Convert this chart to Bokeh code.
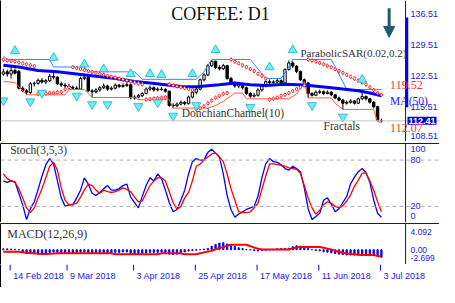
from bokeh.plotting import figure
from bokeh.models import (ColumnDataSource, Range1d, FixedTicker, LinearAxis, Label,
                          Arrow, NormalHead, Span, BoxAnnotation)
from bokeh.layouts import column
from bokeh.embed import file_html
from bokeh.resources import INLINE
from bokeh.core.properties import value

# ---------------- data ----------------
opens = [123.0, 123.5, 123.0, 123.8, 123.6, 119.8, 119.2, 118.8, 120.8, 120.9,
         121.6, 121.2, 121.5, 122.5, 122.3, 120.8, 120.5, 120.3, 120.0, 119.8,
         119.6, 122.0, 122.3, 119.2, 119.0, 119.4, 119.9, 120.3, 119.6, 119.8,
         120.5, 120.2, 120.4, 120.6, 117.6, 117.8, 118.1, 118.6, 119.6, 119.9,
         119.4, 119.6, 119.5, 119.1, 115.9, 115.8, 116.2, 116.6, 116.3, 117.8,
         118.9, 119.6, 121.7, 122.8, 124.9, 125.9, 124.5, 124.2, 124.9, 122.0,
         120.9, 120.3, 120.6, 119.9, 118.6, 118.0, 118.2, 119.4, 120.3, 121.3,
         121.1, 121.2, 121.5, 121.0, 124.0, 125.5, 124.8, 123.6, 121.7, 121.0,
         118.6, 118.2, 118.9, 119.0, 118.6, 118.9, 118.3, 117.6, 117.1, 116.4,
         116.6, 116.9, 116.4, 117.4, 117.9, 117.4, 116.6, 115.6, 112.5]
highs = [124.2, 124.0, 124.6, 124.3, 123.9, 120.2, 119.6, 121.2, 121.3, 122.0,
         122.1, 121.9, 123.0, 123.2, 122.5, 121.3, 121.0, 120.8, 120.4, 120.3,
         122.4, 122.9, 122.5, 119.6, 119.8, 120.3, 120.9, 120.6, 120.2, 120.9,
         120.8, 120.9, 121.2, 120.8, 118.2, 118.5, 118.9, 120.0, 120.4, 120.2,
         120.0, 120.1, 119.8, 119.3, 116.4, 116.6, 117.0, 116.9, 118.1, 119.2,
         119.9, 122.0, 123.2, 125.3, 126.1, 126.0, 125.0, 125.3, 125.1, 122.4,
         121.3, 121.0, 120.9, 120.2, 118.9, 118.7, 119.8, 120.7, 121.6, 121.8,
         121.6, 121.9, 121.8, 124.3, 126.1, 125.9, 125.0, 123.8, 122.0, 121.2,
         118.9, 119.3, 119.5, 119.3, 119.3, 119.1, 118.5, 117.9, 117.4, 117.0,
         117.3, 117.1, 117.7, 119.5, 118.2, 117.6, 116.9, 115.8, 112.9]
lows = [122.6, 122.4, 122.0, 122.9, 119.5, 118.9, 118.3, 118.5, 120.2, 120.6,
        120.8, 120.7, 121.2, 121.8, 120.5, 120.1, 119.9, 119.6, 119.5, 119.5,
        119.4, 121.6, 118.9, 117.7, 118.6, 119.0, 119.6, 119.2, 119.3, 119.5,
        119.8, 119.9, 120.1, 117.3, 117.2, 117.5, 117.8, 118.4, 119.2, 119.0,
        119.1, 119.2, 118.8, 115.6, 115.3, 115.5, 115.9, 115.9, 116.1, 117.5,
        118.4, 119.3, 121.3, 122.5, 124.6, 124.1, 123.8, 123.9, 121.7, 120.6,
        119.9, 119.8, 119.5, 118.3, 117.6, 117.7, 117.9, 119.0, 120.0, 120.7,
        120.8, 120.9, 120.6, 120.8, 123.8, 124.4, 123.2, 121.4, 120.7, 117.6,
        117.9, 118.0, 118.5, 118.3, 118.4, 118.0, 117.3, 116.8, 115.0, 116.1,
        116.3, 116.1, 116.2, 117.1, 117.0, 116.3, 115.2, 112.2, 112.07]
closes = [123.5, 123.0, 123.8, 123.2, 119.8, 119.2, 118.9, 120.8, 120.9, 121.6,
          121.2, 121.5, 122.5, 122.3, 120.8, 120.5, 120.3, 120.0, 119.8, 119.6,
          122.0, 122.3, 119.2, 119.0, 119.4, 119.9, 120.3, 119.6, 119.8, 120.5,
          120.2, 120.4, 120.6, 117.6, 117.8, 118.1, 118.6, 119.6, 119.9, 119.4,
          119.6, 119.5, 119.1, 115.9, 115.8, 116.2, 116.6, 116.3, 117.8, 118.9,
          119.6, 121.7, 122.8, 124.9, 125.9, 124.5, 124.2, 124.9, 122.0, 120.9,
          120.3, 120.6, 119.9, 118.6, 118.0, 118.2, 119.4, 120.3, 121.3, 121.1,
          121.2, 121.5, 121.0, 124.0, 125.5, 124.8, 123.6, 121.7, 121.0, 118.6,
          118.2, 118.9, 119.0, 118.6, 118.9, 118.3, 117.6, 117.1, 116.4, 116.6,
          116.9, 116.4, 117.4, 117.9, 117.4, 116.6, 115.6, 112.5, 112.41]

sar = [126.27, 126.06, 125.95, 125.84, 125.63, 125.41, 125.20, 124.98, 124.76,
       118.51, 118.51, 118.62, 118.73, 118.73, 118.84, 118.95,
       119.59, 120.02,
       124.55, 124.33, 124.12, 123.90, 123.69, 123.47, 123.26, 123.04, 122.82, 122.61,
       122.39, 122.18, 121.96, 121.75, 121.53, 121.32, 121.10, 120.89, 120.67,
       117.22, 117.33, 117.44, 117.54, 117.65, 117.76,
       120.67, 120.45, 120.24, 120.02, 119.81, 119.59, 119.38,
       115.07, 115.28, 115.71, 116.36, 117.01, 117.65, 118.08, 118.51, 118.73,
       126.27, 125.84, 125.41, 124.98, 124.55, 124.12, 123.69, 123.04, 122.61, 121.96,
       117.22, 117.44, 117.65, 118.08, 118.30, 118.73, 119.16, 119.59, 120.02, 120.45,
       126.27, 126.06, 125.84, 125.52, 125.20, 124.87, 124.55, 124.12, 123.69, 123.26,
       122.82, 122.39, 121.96, 121.53, 121.10, 120.67, 120.02, 119.38, 118.73, 118.30]

ma_x = [0, 4, 9, 14, 19, 24, 29, 34, 38, 42, 46, 50, 56, 60, 64, 68, 73, 78, 85, 92, 95, 98]
ma_y = [125.0, 124.6, 123.8, 123.5, 123.0, 122.5, 122.0, 121.3, 121.0, 120.6, 120.2,
        120.1, 120.6, 121.0, 120.6, 120.4, 120.7, 120.5, 119.9, 119.2, 118.7, 118.1]

upper_x = [0, 1, 12, 13, 21, 22, 34, 36, 50, 52, 54, 64, 68, 72, 74, 75, 85, 89, 98]
upper_y = [127.1, 126.3, 126.3, 124.6, 124.6, 123.5, 123.5, 121.8, 121.8, 123.5, 126.3,
           126.3, 122.0, 122.0, 124.6, 126.3, 126.3, 119.52, 119.52]
lower_x = [0, 3, 6, 16, 17, 21, 23, 34, 35, 43, 44, 53, 55, 57, 58, 60, 62, 63, 74, 76,
           77, 78, 79, 85, 86, 88, 96, 97, 98]
lower_y = [121.3, 121.1, 118.3, 118.3, 119.5, 119.5, 117.7, 117.7, 117.2, 117.2, 115.3,
           115.3, 115.9, 116.8, 117.4, 118.7, 118.7, 117.4, 117.4, 118.5, 119.8, 121.3,
           117.6, 117.6, 116.4, 115.0, 115.0, 112.2, 112.07]

frac_up_x = [3, 13, 21, 26, 33, 38, 41, 49, 55, 69, 75, 93]
frac_up_y = [128.21, 126.70, 125.19, 124.12, 123.04, 123.04, 122.83, 123.04, 128.43,
             124.55, 128.43, 121.75]
frac_dn_x = [0, 7, 10, 19, 23, 27, 35, 40, 44, 50, 64, 80, 88]
frac_dn_y = [117.01, 116.79, 118.73, 118.08, 116.14, 116.14, 115.71, 116.57, 113.55,
             115.93, 115.50, 115.93, 113.34]

stoch_k = [53, 51, 53, 52, 37, 22, 3, 17, 26, 42, 59, 74, 82, 75, 53, 31, 20, 22, 22, 31,
           41, 57, 49, 37, 34, 38, 43, 47, 41, 41, 43, 47, 49, 32, 25, 18, 33, 47, 57, 53,
           62, 56, 41, 25, 13, 16, 28, 41, 62, 78, 82, 80, 80, 90, 94, 89, 84, 62, 34, 16,
           6, 10, 13, 16, 18, 20, 33, 57, 75, 82, 78, 77, 74, 69, 67, 72, 69, 65, 44, 17,
           3, 7, 11, 28, 31, 23, 13, 17, 25, 33, 49, 58, 65, 69, 64, 51, 28, 11, 6]
stoch_d = [62, 56, 53, 51, 43, 31, 18, 12, 18, 31, 43, 57, 72, 77, 67, 44, 28, 22, 23, 24,
           32, 41, 49, 47, 41, 37, 41, 39, 38, 39, 41, 44, 42, 39, 32, 26, 27, 37, 47, 53,
           57, 57, 53, 39, 25, 16, 20, 31, 38, 53, 72, 75, 80, 84, 88, 89, 84, 78, 62, 43,
           28, 13, 12, 12, 13, 18, 24, 42, 59, 75, 75, 74, 73, 72, 70, 69, 68, 63, 47, 31,
           18, 10, 15, 22, 26, 24, 20, 18, 21, 27, 35, 46, 54, 63, 63, 53, 41, 26, 13]

macd_hist = [0.2, 0.2, 0.15, 0.1, 0.0, -0.5, -0.8, -0.9, -0.9, -1.0, -1.0, -0.9,
             -0.6, -0.5, -0.6, -0.7, -0.8, -0.8, -0.8, -0.7, -0.6,
             -0.5, -0.6, -0.7, -0.7, -0.6, -0.6, -0.7, -0.7, -0.6, -0.6,
             -0.5, -0.5, -0.8, -0.9, -0.9, -0.8, -0.7, -0.6, -0.6, -0.6,
             -0.6, -0.7, -1.0, -1.1, -1.0, -0.9, -0.5, -0.3, -0.2,
             -0.1, 0.0, 0.15, 0.3, 0.8, 1.2, 1.5, 1.6, 1.3, 1.2, 0.75, 0.45, 0.25, 0.05,
             -0.05, -0.2, -0.3, -0.2, -0.1, 0.0, 0.1, 0.2, 0.25, 0.3, 0.35,
             0.7, 0.9, 0.8, 0.5, 0.3, 0.0, -0.15, -0.25,
             -0.45, -0.55, -0.7, -0.85, -1.0, -1.1, -1.2, -1.2, -1.2, -1.2, -1.2, -1.2,
             -1.2, -1.2, -1.3, -1.7]
macd_signal = [-0.47, -0.47, -0.47, -0.47, -0.47, -0.6, -0.75, -0.75, -0.8, -0.9,
               -0.97, -0.97, -0.9, -0.85, -0.82, -0.82, -0.82, -0.82, -0.82, -0.82,
               -0.82, -0.82, -0.82, -0.82, -0.82, -0.82, -0.82, -0.82, -0.82, -1.03,
               -1.03, -1.03, -1.03, -1.03, -1.03, -1.03, -1.03, -1.03, -1.03, -1.03,
               -1.03, -0.82, -0.82, -0.82, -0.82, -0.82, -0.82, -1.03, -1.03, -1.03,
               -1.03, -0.8, -0.6, -0.4, -0.26, 0.1, 0.4, 0.6, 0.9, 1.12,
               1.12, 1.12, 1.12, 1.12, 0.8, 0.47, 0.25, 0.04, 0.04, 0.04,
               0.04, 0.04, 0.04, 0.04, 0.04, 0.3, 0.5, 0.6, 0.6, 0.6,
               0.6, 0.6, 0.6, 0.45, 0.25, 0.04, -0.25, -0.5, -0.7, -0.85,
               -0.97, -1.05, -1.12, -1.18, -1.18, -1.18, -1.18, -1.4, -1.55]

date_ticks = [1.75, 16.5, 33.75, 49.75, 65.75, 81.75, 97.75]
date_labels = ["14 Feb 2018", "9 Mar 2018", "3 Apr 2018", "25 Apr 2018",
               "17 May 2018", "11 Jun 2018", "3 Jul 2018"]
price_ticks = [108.51, 115.51, 122.51, 129.51, 136.51]
price_label_pos = [108.95, 115.51, 122.51, 129.51, 136.51]
stoch_tick_pos = [94, 80, 20, 8]
stoch_tick_lab = ["100", "80", "20", "0"]
macd_tick_pos = [4.092, 0.0, -1.95]
macd_tick_lab = ["4.092", "0.00", "-2.699"]

# ---------------- styling / layout ----------------
BLUE = "#0000FF"
AXBLUE = "#1818F0"
W = 439
SERIF = "Liberation Serif"
SANS = "Liberation Sans"
AXIS_X = 104.25          # x (in bar units) of the price-scale line
bars = list(range(len(closes)))
xr = Range1d(-0.75, 113.05)


def make_fig(h, yr, top=0, bottom=0):
    p = figure(width=W, height=h, x_range=xr, y_range=yr, output_backend="svg",
               toolbar_location=None, x_axis_location=None, y_axis_location=None,
               min_border_left=0, min_border_right=0,
               min_border_top=top, min_border_bottom=bottom)
    p.outline_line_color = None
    p.grid.visible = False
    p.background_fill_color = "white"
    p.border_fill_color = "white"
    return p


def edge(p, side, color):
    ax = LinearAxis(ticker=FixedTicker(ticks=[]), axis_line_color=color,
                    major_tick_out=0, major_tick_in=0, minor_tick_out=0,
                    minor_tick_in=0, major_label_standoff=0)
    p.add_layout(ax, side)


def price_scale(p, pos, labels, size="9px"):
    p.add_layout(Span(location=AXIS_X, dimension="height", line_color=BLUE, line_width=1))
    p.text(x=[AXIS_X] * len(pos), y=pos, text=labels, x_offset=5,
           text_font=value(SANS), text_font_size=size, text_color=AXBLUE,
           text_align="left", text_baseline="middle")


# ---------------- main price panel ----------------
p1 = make_fig(141, Range1d(107.74, 139.64))
edge(p1, "below", BLUE)
edge(p1, "left", "black")

p1.add_layout(Span(location=closes[-1], dimension="width", line_color="#C4C4C4", line_width=1))
p1.add_layout(BoxAnnotation(left=AXIS_X, right=AXIS_X + 0.7, top=135.8, bottom=115.5,
                            fill_color=BLUE, fill_alpha=1, line_color=None))

src = ColumnDataSource(dict(
    x=bars, h=highs, l=lows,
    top=[max(o, c) for o, c in zip(opens, closes)],
    bot=[min(o, c) for o, c in zip(opens, closes)],
    fill=["white" if c >= o else "black" for o, c in zip(opens, closes)]))
p1.segment(x0="x", y0="h", x1="x", y1="l", source=src, line_color="black", line_width=1)
p1.vbar(x="x", width=0.62, top="top", bottom="bot", source=src,
        fill_color="fill", line_color="black", line_width=1)

p1.line(upper_x, upper_y, line_color="#2A8CF0", line_width=1)
p1.line(lower_x, lower_y, line_color="#FF5A3C", line_width=1)
p1.line(ma_x, ma_y, line_color=BLUE, line_width=3)
p1.scatter(bars, sar, marker="diamond", size=4, fill_color="white",
           line_color="#FF2020", line_width=1)
p1.scatter(frac_up_x, frac_up_y, marker="triangle", size=9, fill_color="#74EAF5",
           line_color="#30C2D6", line_width=1)
p1.scatter(frac_dn_x, frac_dn_y, marker="inverted_triangle", size=9, fill_color="#74EAF5",
           line_color="#30C2D6", line_width=1)

price_scale(p1, price_label_pos, [f"{t:.2f}" for t in price_ticks])

p1.add_layout(Label(x=56.25, y=136.6, text="COFFEE: D1", text_font=SERIF,
                    text_font_size="18px", text_color="#111111", text_align="center",
                    text_baseline="middle"))
p1.add_layout(Arrow(end=NormalHead(size=11, fill_color="#1F5B6C", line_color="#1F5B6C"),
                    x_start=100, y_start=137.9, x_end=100, y_end=131.3,
                    line_color="#1F5B6C", line_width=3))
p1.add_layout(Label(x=77, y=127.8, text="ParabolicSAR(0.02,0.2)", text_font=SERIF,
                    text_font_size="11px", text_color="#333333", text_baseline="middle"))
p1.add_layout(Label(x=46.25, y=114.2, text="DonchianChannel(10)", text_font=SERIF,
                    text_font_size="11.5px", text_color="#333333", text_baseline="middle"))
p1.add_layout(Label(x=83, y=111.2, text="Fractals", text_font=SERIF,
                    text_font_size="11.5px", text_color="#333333", text_baseline="middle"))
p1.add_layout(Label(x=100.25, y=117.0, text="MA(50)", text_font=SERIF,
                    text_font_size="11.5px", text_color="#2222EE", text_baseline="middle"))
p1.add_layout(Label(x=100.25, y=upper_y[-1], text=f"{upper_y[-1]:.2f}", text_font=SERIF,
                    text_font_size="12px", text_color="#FF3030", text_baseline="bottom"))
p1.add_layout(Label(x=AXIS_X + 0.5, y=closes[-1], text=f"{closes[-1]:.2f}", text_font=SANS,
                    text_font_size="9px", text_color="white", text_font_style="bold",
                    background_fill_color="#0000D8", text_baseline="middle",
                    text_align="left", padding=1))
p1.add_layout(Label(x=100.25, y=lower_y[-1], text=f"{lower_y[-1]:.2f}", text_font=SERIF,
                    text_font_size="12px", text_color="#FF3030", text_baseline="top",
                    y_offset=-2))

# ---------------- stochastic panel ----------------
p2 = make_fig(81, Range1d(-0.9, 101.5), top=2)
edge(p2, "above", BLUE)
edge(p2, "below", BLUE)
edge(p2, "left", "black")
for lvl in (80, 20):
    p2.add_layout(Span(location=lvl, dimension="width", line_color="#AFAFAF",
                       line_width=1, line_dash="4 3"))
p2.line(bars, stoch_k, line_color=BLUE, line_width=1.3)
p2.line(bars, stoch_d, line_color="#FF0000", line_width=1.3)
price_scale(p2, stoch_tick_pos, stoch_tick_lab)
p2.add_layout(Label(x=1.75, y=92.8, text="Stoch(3,5,3)", text_font=SERIF,
                    text_font_size="11.5px", text_color="#333333", text_baseline="middle"))

# ---------------- MACD panel ----------------
p3 = make_fig(42, Range1d(-3.34, 5.93), top=1)
edge(p3, "above", BLUE)
edge(p3, "below", BLUE)
edge(p3, "left", "black")
p3.vbar(x=bars, width=0.32, top=macd_hist, bottom=0, fill_color=BLUE, line_color=BLUE)
p3.line(bars, macd_signal, line_color="#FF0000", line_width=2)
price_scale(p3, macd_tick_pos, macd_tick_lab, size="8.5px")
p3.add_layout(Label(x=1, y=3.6, text="MACD(12,26,9)", text_font=SERIF,
                    text_font_size="12px", text_color="#333333", text_baseline="middle"))

# ---------------- date strip ----------------
p4 = make_fig(23, Range1d(0, 1))
edge(p4, "left", "black")
edge(p4, "below", "black")
p4.segment(x0=date_ticks, y0=[1] * len(date_ticks), x1=date_ticks,
           y1=[0.74] * len(date_ticks), line_color=BLUE, line_width=1)
p4.text(x=date_ticks, y=[0.5] * len(date_ticks), text=date_labels, x_offset=3,
        text_font=value(SANS), text_font_size="9px", text_color=AXBLUE,
        text_align="left", text_baseline="middle")

layout = column(p1, p2, p3, p4, spacing=0)
open("out.html", "w").write(file_html(layout, INLINE))
